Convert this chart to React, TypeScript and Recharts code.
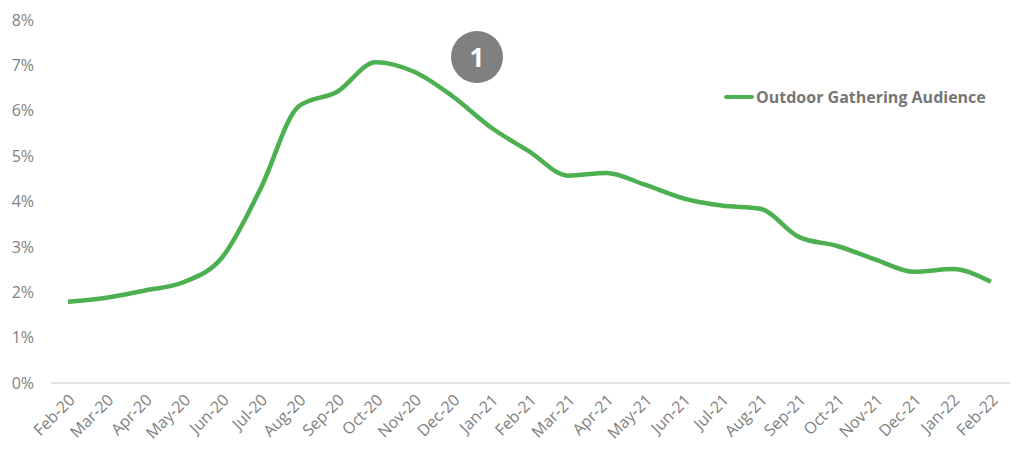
import { Line, LineChart, XAxis, YAxis } from "recharts";

const MONTHS = [
  "Feb-20", "Mar-20", "Apr-20", "May-20", "Jun-20", "Jul-20", "Aug-20",
  "Sep-20", "Oct-20", "Nov-20", "Dec-20", "Jan-21", "Feb-21", "Mar-21",
  "Apr-21", "May-21", "Jun-21", "Jul-21", "Aug-21", "Sep-21", "Oct-21",
  "Nov-21", "Dec-21", "Jan-22", "Feb-22",
];

const AUDIENCE = [
  1.79, 1.88, 2.04, 2.22, 2.76, 4.27, 6.1, 6.42, 7.07, 6.86, 6.32, 5.63,
  5.1, 4.57, 4.63, 4.37, 4.07, 3.91, 3.84, 3.22, 3.02, 2.72, 2.45, 2.51, 2.23,
];

const Y_TICKS = [0, 1, 2, 3, 4, 5, 6, 7, 8];

const SERIES_NAME = "Outdoor Gathering Audience";
const GREEN = "#4caf50";
const GREY_TEXT = "#7f7f7f";
const FONT = "'Open Sans', 'Noto Sans', sans-serif";

const data = MONTHS.map((month, i) => ({ month, value: AUDIENCE[i] }));

export default function App() {
  return (
    <div style={{ position: "absolute", left: 0, top: 0, width: 1024, height: 466, background: "#fff" }}>
      <LineChart
        width={1024}
        height={466}
        data={data}
        margin={{ top: 20, right: 14, bottom: 0, left: 0 }}
      >
        <XAxis
          dataKey="month"
          interval={0}
          height={83}
          padding={{ left: 17, right: 19 }}
          angle={-45}
          textAnchor="end"
          tickLine={false}
          axisLine={{ stroke: "#d9d9d9", strokeWidth: 1.5 }}
          tick={{ fill: GREY_TEXT, fontSize: 16, fontFamily: FONT }}
          tickMargin={4}
        />
        <YAxis
          domain={[0, 8]}
          ticks={Y_TICKS}
          width={51}
          axisLine={false}
          tickLine={false}
          tickMargin={11}
          tickFormatter={(v) => `${v}%`}
          tick={{ fill: GREY_TEXT, fontSize: 16, fontFamily: FONT }}
        />
        <Line
          dataKey="value"
          name={SERIES_NAME}
          type="monotone"
          stroke={GREEN}
          strokeWidth={4.5}
          dot={false}
          activeDot={false}
          isAnimationActive={false}
        />
      </LineChart>
      <div
        style={{
          position: "absolute",
          left: 724,
          top: 86,
          display: "flex",
          alignItems: "center",
          fontFamily: FONT,
        }}
      >
        <span
          style={{
            display: "inline-block",
            width: 30,
            height: 4,
            borderRadius: 2,
            background: GREEN,
            marginRight: 2,
          }}
        />
        <span style={{ fontSize: 16, fontWeight: 700, color: "#767676" }}>
          {SERIES_NAME}
        </span>
      </div>
      <div
        style={{
          position: "absolute",
          left: 451,
          top: 31,
          width: 52,
          height: 52,
          borderRadius: "50%",
          background: "#808080",
          color: "#fff",
          fontFamily: FONT,
          fontWeight: 700,
          fontSize: 26,
          display: "flex",
          alignItems: "center",
          justifyContent: "center",
        }}
      >
        1
      </div>
    </div>
  );
}
